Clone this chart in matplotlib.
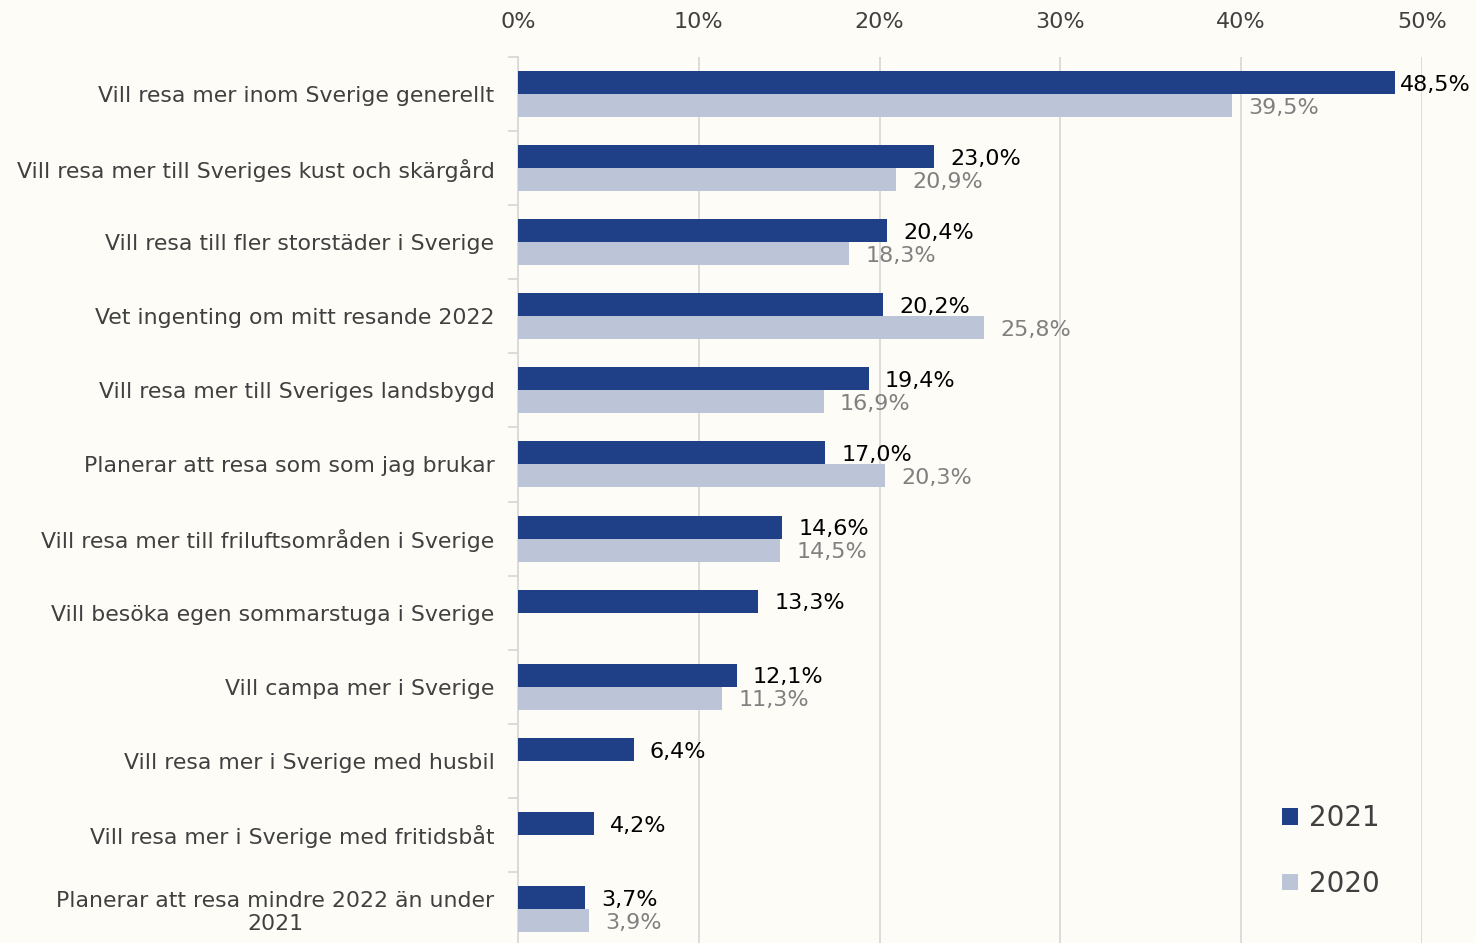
import matplotlib
matplotlib.use("Agg")
import matplotlib.pyplot as plt
import numpy as np

# data
categories = [
    "Vill resa mer inom Sverige generellt",
    "Vill resa mer till Sveriges kust och skärgård",
    "Vill resa till fler storstäder i Sverige",
    "Vet ingenting om mitt resande 2022",
    "Vill resa mer till Sveriges landsbygd",
    "Planerar att resa som som jag brukar",
    "Vill resa mer till friluftsområden i Sverige",
    "Vill besöka egen sommarstuga i Sverige",
    "Vill campa mer i Sverige",
    "Vill resa mer i Sverige med husbil",
    "Vill resa mer i Sverige med fritidsbåt",
    "Planerar att resa mindre 2022 än under\n2021",
]
values_2021 = [48.5, 23.0, 20.4, 20.2, 19.4, 17.0, 14.6, 13.3, 12.1, 6.4, 4.2, 3.7]
values_2020 = [39.5, 20.9, 18.3, 25.8, 16.9, 20.3, 14.5, None, 11.3, None, None, 3.9]
x_ticks = [0, 10, 20, 30, 40, 50]

dark = "#1F3F86"
light = "#BCC5D7"
bg = "#FDFCF7"
txt = "#404040"

plt.rcParams['font.family'] = ['DejaVu Sans']

fig = plt.figure(figsize=(14.76, 9.43), dpi=100, facecolor=bg)
ax = fig.add_axes([518 / 1476, -3 / 943, (1422 - 518) / 1476, (943 + 3 - 57) / 943])
ax.set_facecolor(bg)

n = len(categories)
y = np.arange(n)
h = 0.31

ax.barh(y - h / 2, values_2021, height=h, color=dark, zorder=3, label="2021")
v20 = [v if v is not None else 0 for v in values_2020]
ax.barh(y + h / 2, v20, height=h, color=light, zorder=3, label="2020")

# labels go right of the bar, but are kept inside the chart area
for i, v in enumerate(values_2021):
    ax.text(min(v + 0.9, 48.8), i - h / 2 + 0.03, f"{v:.1f}%".replace(".", ","),
            va="center", ha="left", fontsize=16, color="black", zorder=4)
for i, v in enumerate(values_2020):
    if v is None:
        continue
    ax.text(v + 0.9, i + h / 2 + 0.03, f"{v:.1f}%".replace(".", ","), va="center",
            ha="left", fontsize=16, color="#808080", zorder=4)

ax.set_xlim(0, 50)
ax.set_ylim(n - 0.5, -0.5)
ax.set_xticks(x_ticks)
ax.set_xticklabels([f"{t}%" for t in x_ticks])
ax.xaxis.tick_top()
ax.tick_params(axis="x", length=0, pad=18, labelsize=16, labelcolor=txt)
ax.grid(axis="x", color="#D9D9D9", linewidth=1.3, zorder=0)

ax.set_yticks(y)
ax.set_yticklabels(categories, fontsize=15.8, color=txt, multialignment="center")
ax.tick_params(axis="y", length=0, pad=17)
ax.set_yticks(np.arange(n + 1) - 0.5, minor=True)
ax.tick_params(axis="y", which="minor", length=7, color="#D9D9D9", width=1.3)

for s in ["top", "right", "bottom"]:
    ax.spines[s].set_visible(False)
ax.spines["left"].set_color("#D9D9D9")
ax.spines["left"].set_linewidth(1.3)

leg = ax.legend(loc="lower left", bbox_to_anchor=(0.818, 0.026), frameon=False,
                fontsize=20, handlelength=0.55, handleheight=0.55, labelspacing=1.35,
                handletextpad=0.4, labelcolor=txt)

fig.savefig("out.png", dpi=100, facecolor=bg)
